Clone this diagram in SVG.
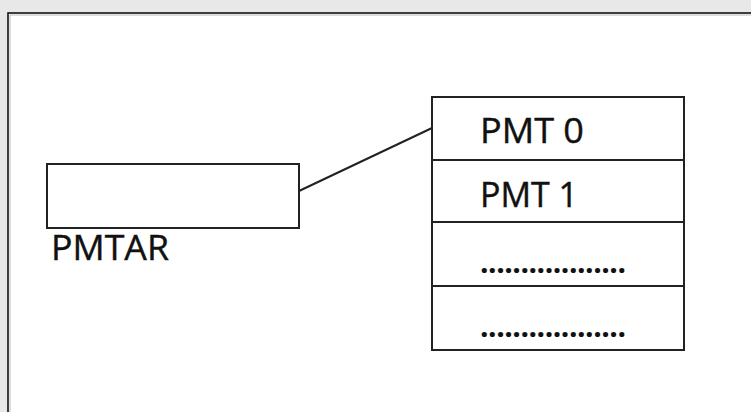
<svg xmlns="http://www.w3.org/2000/svg" width="751" height="412" viewBox="0 0 751 412">
<style>
.box{fill:#fff;stroke:#222;stroke-width:2}
.lbl{font-family:"Open Sans","Noto Sans",sans-serif;font-size:34px;fill:#111;stroke:#111;stroke-width:0.4}
.dots{font-family:"Open Sans","Noto Sans",sans-serif;font-size:30px;font-weight:bold;fill:#111}
.conn{stroke:#222;stroke-width:2;fill:none}
</style>
<rect x="0" y="0" width="751" height="412" fill="#e8e8e8"/>
<rect x="8" y="13" width="760" height="420" fill="#fff" stroke="#111" stroke-width="1.6"/>
<path d="M10 433 V15 H768" fill="none" stroke="#bbb" stroke-width="1"/>
<g id="pmtar">
<rect class="box" x="47" y="164" width="252" height="64"/>
<text class="lbl" x="51" y="260" textLength="118" lengthAdjust="spacingAndGlyphs">PMTAR</text>
</g>
<g id="pmt-table">
<rect class="box" x="432" y="97" width="252" height="253"/>
<line class="conn" x1="432" y1="160" x2="684" y2="160"/>
<line class="conn" x1="432" y1="222" x2="684" y2="222"/>
<line class="conn" x1="432" y1="286" x2="684" y2="286"/>
<text class="lbl" x="480" y="143" textLength="104" lengthAdjust="spacingAndGlyphs">PMT 0</text>
<text class="lbl" x="480" y="207" textLength="98" lengthAdjust="spacing">PMT 1</text>
<text class="dots" x="480" y="273" textLength="146" lengthAdjust="spacing">..................</text>
<text class="dots" x="480" y="337" textLength="146" lengthAdjust="spacing">..................</text>
</g>
<g id="connectors">
<line class="conn" x1="299" y1="191" x2="432" y2="128"/>
</g>
</svg>
